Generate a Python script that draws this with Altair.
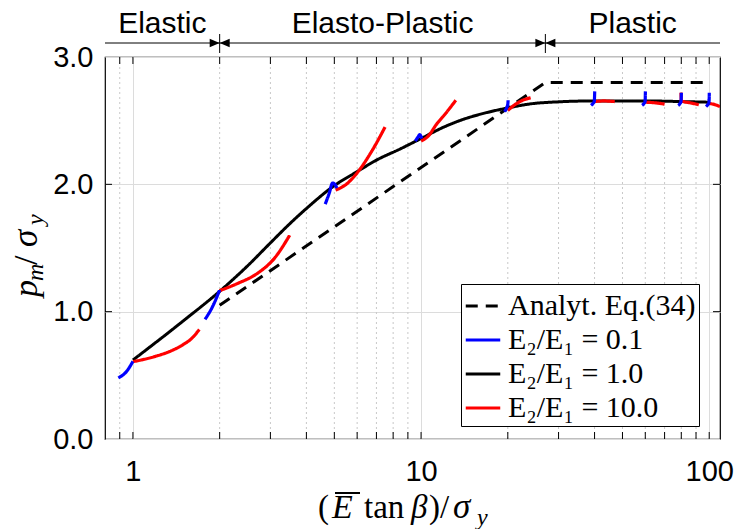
import altair as alt
import pandas as pd
import math

# ---------------- data ----------------
S_AN = "Analyt. Eq.(34)"
S_01 = "E₂/E₁ = 0.1"
S_10 = "E₂/E₁ = 1.0"
S_100 = "E₂/E₁ = 10.0"

analyt_x = [2.0, 27.0, 100.0]
analyt_y = [1.05, 2.80, 2.80]

e1_x = [1.0, 1.5, 2.0, 2.5, 3.0, 3.5, 4.0, 5.0, 6.0, 7.0, 8.5, 10.0, 12.0, 14.0, 17.0, 20.0, 24.0, 30.0, 40.0, 60.0, 80.0, 100.0]
e1_y = [0.62, 0.93, 1.16, 1.36, 1.54, 1.69, 1.81, 1.99, 2.10, 2.19, 2.28, 2.36, 2.45, 2.51, 2.565, 2.60, 2.632, 2.648, 2.655, 2.655, 2.65, 2.645]

blue_x = [
    [0.89, 0.95, 1.0],
    [1.78, 1.89, 2.0],
    [4.65, 4.80, 4.93, 5.02, 5.10],
    [9.55, 9.75, 9.90, 10.05],
    [19.5, 19.8, 20.0, 20.05],
    [38.9, 39.5, 39.9, 40.0, 40.05],
    [58.5, 59.4, 59.9, 60.0, 60.05],
    [78.0, 79.2, 79.8, 80.0, 80.05],
    [97.5, 98.8, 99.7, 100.0, 100.05],
]
blue_y = [
    [0.48, 0.53, 0.61],
    [0.94, 1.04, 1.17],
    [1.845, 1.93, 2.01, 2.00, 1.97],
    [2.34, 2.37, 2.39, 2.36],
    [2.57, 2.60, 2.63, 2.66],
    [2.62, 2.635, 2.65, 2.69, 2.73],
    [2.62, 2.635, 2.65, 2.69, 2.73],
    [2.62, 2.635, 2.65, 2.69, 2.72],
    [2.61, 2.625, 2.64, 2.68, 2.72],
]

red_x = [
    [1.0, 1.2, 1.35, 1.49, 1.6, 1.7],
    [2.0, 2.3, 2.7, 3.1, 3.5],
    [5.05, 5.5, 6.0, 6.7, 7.5],
    [10.0, 10.6, 11.3, 12.2, 13.2],
    [20.0, 21.0, 22.5, 24.0],
    [40.0, 43.0, 47.0],
    [60.0, 65.0, 70.0],
    [79.8, 80.0, 86.0, 92.0],
    [100.0, 105.0, 109.0],
]
red_y = [
    [0.607, 0.65, 0.69, 0.74, 0.79, 0.86],
    [1.165, 1.22, 1.30, 1.42, 1.60],
    [1.955, 2.00, 2.09, 2.25, 2.45],
    [2.34, 2.38, 2.47, 2.56, 2.66],
    [2.58, 2.62, 2.66, 2.68],
    [2.65, 2.655, 2.65],
    [2.645, 2.64, 2.63],
    [2.72, 2.655, 2.64, 2.625],
    [2.635, 2.625, 2.61],
]

series_names = [S_AN, S_01, S_10, S_100]
series_colors = ["#000000", "#0000ff", "#000000", "#ff0000"]
series_dash = [[12, 8], [1, 0], [1, 0], [1, 0]]

x_major = [1, 10, 100]
x_minor = [0.9, 2, 3, 4, 5, 6, 7, 8, 9, 20, 30, 40, 50, 60, 70, 80, 90]
y_ticks = [0, 1, 2, 3]
y_inner = [1, 2]

regime_bounds = [2, 27]
regime_names = ["Elastic", "Elasto-Plastic", "Plastic"]
x_lo, x_hi = 0.8, 109

# ---------------- tables ----------------
def rows(series, xs_list, ys_list):
    out = []
    for s, (xs, ys) in enumerate(zip(xs_list, ys_list)):
        for i, (xv, yv) in enumerate(zip(xs, ys)):
            out.append({"series": series, "seg": f"{series}-{s}", "idx": i, "x": xv, "y": yv})
    return pd.DataFrame(out)

df_an = rows(S_AN, [analyt_x], [analyt_y])
df_e1 = rows(S_10, [e1_x], [e1_y])
df_blue = rows(S_01, blue_x, blue_y)
df_red = rows(S_100, red_x, red_y)

W, H = 615, 382

xscale = alt.Scale(type="log", domain=[x_lo, x_hi], nice=False)
yscale = alt.Scale(domain=[0, 3], nice=False)

def legend():
    return alt.Legend(orient="none", legendX=356, legendY=227, title=None,
                      symbolType="stroke", symbolSize=1190, symbolStrokeWidth=3,
                      labelFont="Liberation Serif", labelFontSize=30,
                      labelColor="black", fillColor="white",
                      strokeColor="black", padding=3, rowPadding=0,
                      labelOffset=6, labelLimit=400)

color_enc = alt.Color("series:N",
                      scale=alt.Scale(domain=series_names, range=series_colors),
                      legend=legend())
dash_enc = alt.StrokeDash("series:N",
                          scale=alt.Scale(domain=series_names, range=series_dash),
                          legend=legend())

x_enc = alt.X("x:Q", scale=xscale,
              axis=alt.Axis(values=x_major, title=None, grid=True, labelPadding=18,
                            labelFontSize=29, labelFont="Liberation Sans", labelColor="black",
                            ticks=False, domain=False))
y_enc = alt.Y("y:Q", scale=yscale,
              axis=alt.Axis(values=y_ticks, format=".1f", title=None, grid=True, labelPadding=12,
                            labelFontSize=29, labelFont="Liberation Sans", labelColor="black",
                            ticks=False, domain=False))

def line_layer(df, width, interp):
    return alt.Chart(df).mark_line(strokeWidth=width, clip=True, interpolate=interp).encode(
        x=x_enc, y=y_enc, color=color_enc, strokeDash=dash_enc,
        detail="seg:N", order="idx:Q")

# minor grid
minor_df = pd.DataFrame({"x": x_minor})
minor_grid = alt.Chart(minor_df).mark_rule(color="#c8c8c8", strokeDash=[2, 3], strokeWidth=1).encode(
    x=alt.X("x:Q", scale=xscale), y=alt.value(0), y2=alt.value(H))

all_x_ticks = pd.DataFrame({"x": sorted(x_major + x_minor)})
ticks_bottom = alt.Chart(all_x_ticks).mark_rule(color="black", strokeWidth=1).encode(
    x=alt.X("x:Q", scale=xscale), y=alt.value(H), y2=alt.value(H - 7))
ticks_top = alt.Chart(all_x_ticks).mark_rule(color="black", strokeWidth=1).encode(
    x=alt.X("x:Q", scale=xscale), y=alt.value(0), y2=alt.value(7))
yt_df = pd.DataFrame({"y": y_inner})
ticks_left = alt.Chart(yt_df).mark_rule(color="black", strokeWidth=1).encode(
    y=alt.Y("y:Q", scale=yscale), x=alt.value(0), x2=alt.value(7))
ticks_right = alt.Chart(yt_df).mark_rule(color="black", strokeWidth=1).encode(
    y=alt.Y("y:Q", scale=yscale), x=alt.value(W), x2=alt.value(W - 7))

# regime annotation above plot
arrow_line = alt.Chart(pd.DataFrame({"a": [0]})).mark_rule(color="black", strokeWidth=1).encode(
    x=alt.value(0), x2=alt.value(W), y=alt.value(-14))
bounds_df = pd.DataFrame({"x": regime_bounds})
separators = alt.Chart(bounds_df).mark_rule(color="black", strokeWidth=1).encode(
    x=alt.X("x:Q", scale=xscale), y=alt.value(-23), y2=alt.value(-4))
arrow_r = alt.Chart(bounds_df).mark_point(shape="M-1,-0.42L0,0L-1,0.42Z", filled=True, size=400,
                                          color="black", opacity=1).encode(
    x=alt.X("x:Q", scale=xscale), y=alt.value(-14))
arrow_l = alt.Chart(bounds_df).mark_point(shape="M1,-0.42L0,0L1,0.42Z", filled=True, size=400,
                                          color="black", opacity=1).encode(
    x=alt.X("x:Q", scale=xscale), y=alt.value(-14))
edges = [x_lo] + regime_bounds + [x_hi]
mids = [math.sqrt(edges[i] * edges[i + 1]) for i in range(3)]
regime_df = pd.DataFrame({"x": mids, "t": regime_names})
regime_text = alt.Chart(regime_df).mark_text(font="Liberation Sans", fontSize=30, color="black",
                                             baseline="alphabetic", align="center").encode(
    x=alt.X("x:Q", scale=xscale), y=alt.value(-24), text="t:N")

# axis titles built from text pieces (math style)
def txt(s, x, y, size=33, style="normal", angle=0):
    return alt.Chart(pd.DataFrame({"t": [s]})).mark_text(
        font="Liberation Serif", fontSize=size, fontStyle=style, color="black",
        align="left", baseline="alphabetic", angle=angle).encode(
        x=alt.value(x), y=alt.value(y), text="t:N")

xt_base = 461
xtitle = [
    txt("(", 213, xt_base),
    txt("E", 227, xt_base, size=34, style="italic"),
    txt("tan", 259, xt_base),
    txt("β", 306, xt_base, style="italic"),
    txt(")/", 324, xt_base),
    txt("σ", 348, xt_base, size=35, style="italic"),
    txt("y", 372, xt_base + 7, size=24, style="italic"),
]
overline = alt.Chart(pd.DataFrame({"a": [0]})).mark_rule(color="black", strokeWidth=2).encode(
    x=alt.value(230), x2=alt.value(255), y=alt.value(436))

yb = -68
ytitle = [
    txt("p", yb, 240, size=34, style="italic", angle=270),
    txt("m", yb + 6, 224, size=24, style="italic", angle=270),
    txt("/", yb, 208, size=34, angle=270),
    txt("σ", yb, 190, size=35, style="italic", angle=270),
    txt("y", yb + 6, 168, size=24, style="italic", angle=270),
]

chart = alt.layer(
    minor_grid,
    line_layer(df_an, 3, "linear"),
    line_layer(df_e1, 3, "monotone"),
    line_layer(df_red, 3.2, "monotone"),
    line_layer(df_blue, 3.2, "monotone"),
    ticks_bottom, ticks_top, ticks_left, ticks_right,
    arrow_line, separators, arrow_r, arrow_l, regime_text,
    *xtitle, overline, *ytitle,
).properties(
    width=W, height=H,
    autosize=alt.AutoSizeParams(type="none"),
    padding={"left": 105, "top": 57, "right": 17, "bottom": 90},
).configure_view(
    stroke="black", strokeWidth=1.2
).configure_axis(
    gridColor="#dcdcdc", gridWidth=1
)

chart.save("out.html", embed_options={"renderer": "svg", "actions": False})
